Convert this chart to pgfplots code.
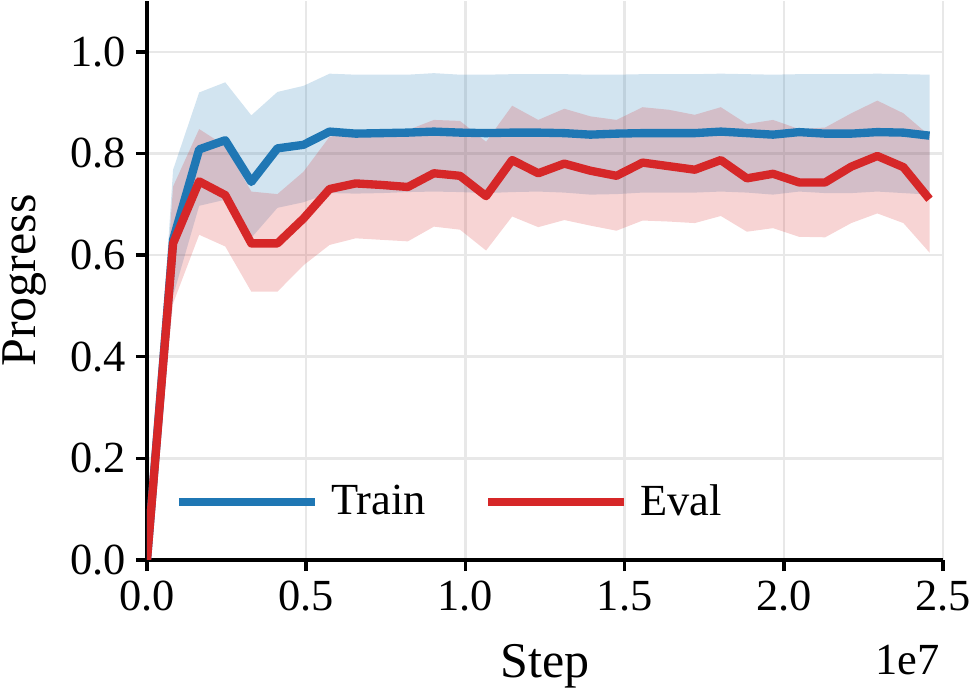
\documentclass[border=0pt]{standalone}
\usepackage{fontspec}
\setmainfont{Liberation Serif}
\usepackage{pgfplots}
\pgfplotsset{compat=1.18}
\usepgfplotslibrary{fillbetween}
\usepackage{pgfplotstable}

\definecolor{trainblue}{HTML}{1F77B4}
\definecolor{evalred}{HTML}{D62728}

% mean and spread (low / high) of progress for train and eval runs
\pgfplotstableread{
step     tm    tl    th    em    el    eh
0        0.000 0.000 0.000 0.000 0.000 0.000
819200   0.630 0.520 0.768 0.623 0.505 0.735
1638400  0.808 0.697 0.920 0.745 0.640 0.848
2457600  0.826 0.709 0.940 0.718 0.617 0.815
3276800  0.744 0.634 0.875 0.623 0.528 0.725
4096000  0.810 0.693 0.921 0.623 0.528 0.720
4915200  0.817 0.704 0.933 0.672 0.580 0.764
5734400  0.843 0.722 0.957 0.730 0.620 0.833
6553600  0.839 0.721 0.955 0.741 0.633 0.840
7372800  0.840 0.722 0.955 0.738 0.630 0.842
8192000  0.841 0.724 0.955 0.734 0.627 0.846
9011200  0.843 0.725 0.958 0.761 0.656 0.866
9830400  0.841 0.724 0.955 0.756 0.650 0.864
10649600 0.840 0.722 0.955 0.716 0.609 0.823
11468800 0.841 0.724 0.956 0.787 0.676 0.894
12288000 0.841 0.725 0.956 0.761 0.655 0.866
13107200 0.840 0.723 0.956 0.780 0.669 0.888
13926400 0.837 0.719 0.955 0.766 0.658 0.873
14745600 0.839 0.720 0.955 0.756 0.648 0.866
15564800 0.840 0.723 0.956 0.782 0.668 0.891
16384000 0.840 0.723 0.956 0.775 0.666 0.886
17203200 0.840 0.723 0.956 0.768 0.663 0.876
18022400 0.843 0.725 0.957 0.787 0.677 0.891
18841600 0.840 0.723 0.956 0.751 0.646 0.858
19660800 0.837 0.719 0.955 0.760 0.653 0.866
20480000 0.842 0.725 0.956 0.743 0.636 0.848
21299200 0.839 0.722 0.956 0.743 0.635 0.851
22118400 0.839 0.722 0.956 0.774 0.663 0.879
22937600 0.842 0.725 0.957 0.795 0.682 0.904
23756800 0.841 0.722 0.956 0.773 0.663 0.879
24576000 0.835 0.719 0.955 0.710 0.605 0.835
}\progress

\begin{document}
\begin{tikzpicture}
\begin{axis}[
  name=ax,
  at={(0,0)}, anchor=south west,
  width=286.56pt, height=201.24pt, scale only axis,
  xmin=0, xmax=25000000, ymin=0, ymax=1.1,
  axis lines*=left,
  axis line style={line width=1.25pt, black, -},
  tick align=outside,
  major tick length=4pt,
  tick style={line width=1.25pt, black},
  xtick={0,5000000,10000000,15000000,20000000,25000000},
  xticklabels={0.0,0.5,1.0,1.5,2.0,2.5},
  scaled x ticks=false,
  ytick={0,0.2,0.4,0.6,0.8,1.0},
  yticklabels={0.0,0.2,0.4,0.6,0.8,1.0},
  tick label style={font=\fontsize{16}{19}\selectfont},
  label style={font=\fontsize{18}{21}\selectfont},
  xlabel={Step}, ylabel={Progress},
  xlabel style={yshift=-5pt},
  ylabel style={yshift=2pt},
  grid=major,
  major grid style={black!9, line width=0.9pt},
  legend style={draw=none, fill=none, inner sep=0pt,
    at={(0.034,0.1038)}, anchor=west,
    font=\fontsize{16}{19}\selectfont,
    /tikz/every odd column/.append style={column sep=2.3pt},
    /tikz/every even column/.append style={column sep=19pt}},
  legend columns=2,
  legend image code/.code={\draw[#1] (0pt,0pt) -- (49pt,0pt);},
]
% spread bands
\addplot[name path=thi, draw=none, forget plot] table[x=step, y=th]{\progress};
\addplot[name path=tlo, draw=none, forget plot] table[x=step, y=tl]{\progress};
\addplot[fill=trainblue, fill opacity=0.2, draw=none, forget plot] fill between[of=thi and tlo];
\addplot[name path=ehi, draw=none, forget plot] table[x=step, y=eh]{\progress};
\addplot[name path=elo, draw=none, forget plot] table[x=step, y=el]{\progress};
\addplot[fill=evalred, fill opacity=0.2, draw=none, forget plot] fill between[of=ehi and elo];
% mean curves
\addplot[trainblue, line width=3pt, line join=round] table[x=step, y=tm]{\progress};
\addlegendentry{Train}
\addplot[evalred, line width=3pt, line join=round] table[x=step, y=em]{\progress};
\addlegendentry{Eval}
\end{axis}
% offset marker for the step axis
\node[anchor=north east, inner sep=0pt, font=\fontsize{16}{19}\selectfont]
  at ([xshift=-1pt, yshift=-30.5pt]ax.south east) {1e7};
\pgfresetboundingbox
\useasboundingbox (-52.92pt,-47.52pt) rectangle (295.92pt,201.6pt);
\end{tikzpicture}
\end{document}
